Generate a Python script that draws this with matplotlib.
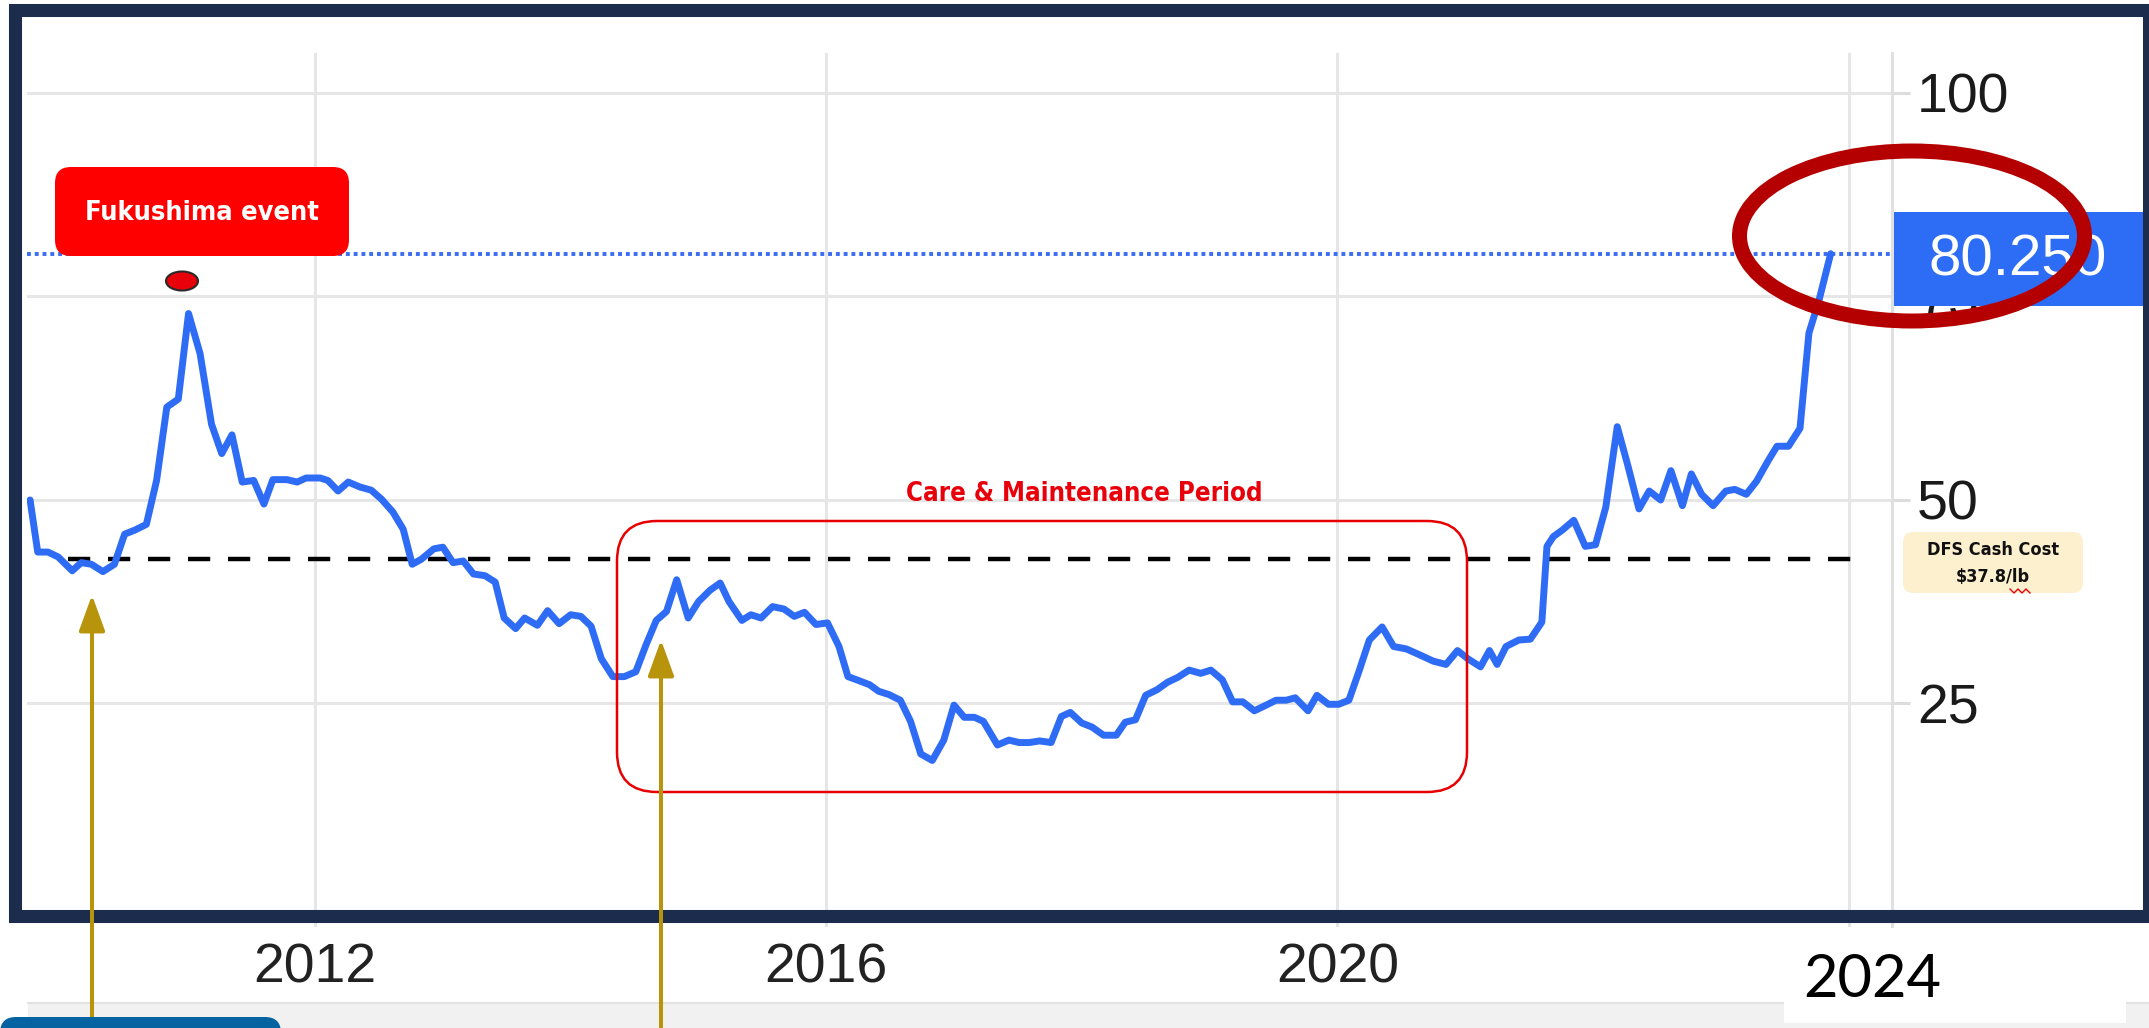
import matplotlib
matplotlib.use("Agg")
import matplotlib.pyplot as plt
import matplotlib.transforms as mtransforms
from matplotlib import font_manager as fm
from matplotlib.patches import FancyBboxPatch, Ellipse, FancyArrowPatch, Rectangle
from matplotlib.lines import Line2D

W, H = 2149, 1028
DPI = 100

# uranium spot price (US$/lb)
dates = [
    2009.77, 2009.83, 2009.91, 2009.99,
    2010.10, 2010.17, 2010.25, 2010.34, 2010.43, 2010.51, 2010.59, 2010.68, 2010.76, 2010.84, 2010.93,
    2011.01, 2011.10, 2011.19, 2011.27, 2011.35, 2011.43, 2011.52, 2011.60, 2011.67, 2011.78, 2011.86, 2011.93,
    2012.04, 2012.10, 2012.18, 2012.26, 2012.35, 2012.44, 2012.52, 2012.61, 2012.69, 2012.76, 2012.83, 2012.93,
    2013.00, 2013.08, 2013.16, 2013.24, 2013.33, 2013.41, 2013.48, 2013.57, 2013.64, 2013.74, 2013.82, 2013.91,
    2014.00, 2014.08, 2014.16, 2014.24, 2014.33, 2014.42, 2014.51, 2014.59, 2014.67, 2014.75, 2014.83, 2014.92,
    2015.00, 2015.09, 2015.17, 2015.24, 2015.34, 2015.41, 2015.49, 2015.58, 2015.67, 2015.75, 2015.83, 2015.92,
    2016.01, 2016.10, 2016.17, 2016.24, 2016.34, 2016.41, 2016.49, 2016.58, 2016.66, 2016.74, 2016.83, 2016.92,
    2017.00, 2017.08, 2017.16, 2017.23, 2017.34, 2017.43, 2017.51, 2017.59, 2017.67, 2017.76, 2017.84, 2017.91,
    2018.00, 2018.08, 2018.17, 2018.27, 2018.34, 2018.42, 2018.50, 2018.59, 2018.67, 2018.75, 2018.84, 2018.93,
    2019.01, 2019.10, 2019.18, 2019.26, 2019.35, 2019.43, 2019.52, 2019.60, 2019.67, 2019.77, 2019.84, 2019.93,
    2020.01, 2020.09, 2020.17, 2020.25, 2020.35, 2020.44, 2020.54, 2020.64, 2020.75, 2020.85, 2020.94,
    2021.02, 2021.12, 2021.19, 2021.25, 2021.32, 2021.42, 2021.51, 2021.60, 2021.64, 2021.69, 2021.76, 2021.85, 2021.94,
    2022.02, 2022.10, 2022.19, 2022.27, 2022.36, 2022.44, 2022.53, 2022.61, 2022.70, 2022.77, 2022.85, 2022.94,
    2023.04, 2023.11, 2023.20, 2023.28, 2023.37, 2023.44, 2023.53, 2023.62, 2023.69, 2023.77, 2023.86,
]
prices = [
    50.0, 43.6, 43.6, 43.0,
    41.3, 42.3, 42.1, 41.2, 42.1, 45.8, 46.3, 47.0, 52.4, 61.4, 62.4,
    72.9, 68.0, 59.3, 55.7, 58.0, 52.2, 52.4, 49.5, 52.5, 52.5, 52.2, 52.7,
    52.7, 52.4, 51.1, 52.2, 51.6, 51.2, 50.1, 48.5, 46.4, 42.1, 42.7, 44.0,
    44.2, 42.3, 42.5, 40.9, 40.7, 39.9, 35.5, 34.2, 35.5, 34.6, 36.4, 34.8,
    35.9, 35.7, 34.5, 30.5, 28.3, 28.3, 28.9, 32.2, 35.2, 36.3, 40.2, 35.5,
    37.5, 38.9, 39.8, 37.5, 35.2, 35.9, 35.5, 36.9, 36.6, 35.7, 36.2, 34.7,
    34.9, 32.0, 28.3, 27.9, 27.3, 26.5, 26.1, 25.4, 22.8, 18.8, 18.0, 20.5,
    24.8, 23.3, 23.3, 22.8, 19.9, 20.5, 20.2, 20.2, 20.4, 20.2, 23.4, 23.9,
    22.6, 22.1, 21.1, 21.1, 22.7, 23.0, 26.0, 26.7, 27.6, 28.2, 29.1, 28.7,
    29.1, 27.9, 25.2, 25.2, 24.1, 24.7, 25.4, 25.4, 25.7, 24.1, 26.0, 24.9,
    24.9, 25.4, 29.0, 32.8, 34.4, 32.0, 31.7, 31.0, 30.2, 29.8, 31.5,
    30.5, 29.5, 31.5, 29.8, 32.0, 32.8, 32.9, 35.0, 44.3, 45.5, 46.3, 47.5, 44.3,
    44.5, 49.1, 59.0, 54.4, 48.9, 51.1, 50.0, 53.6, 49.3, 53.2, 50.7, 49.3,
    51.1, 51.3, 50.7, 52.3, 54.8, 56.6, 56.6, 58.8, 70.5, 74.6, 80.25,
]

last_price = 80.25
dfs_line = 42.8                 # level where the dashed DFS line is drawn
dfs_span = (2010.07, 2024.09)
y_ticks = [25, 50, 75, 100]
x_ticks = [2012, 2016, 2020, 2024]
x_labels = ["2012", "2016", "2020", ""]

plt.rcParams["font.family"] = ["Liberation Sans", "DejaVu Sans"]


def narrow_bold():
    # look for any condensed / narrow bold face that is installed
    picks = []
    for f in fm.fontManager.ttflist:
        narrow = "Narrow" in f.name or "Condensed" in f.name or \
            str(f.stretch) in ("condensed", "semi-condensed", "extra-condensed", "ultra-condensed")
        bold = f.weight in ("bold", 700, "heavy", 800, "semibold", 600) or \
            "Bold" in f.fname
        if narrow and bold:
            picks.append(f)
    if picks:
        picks.sort(key=lambda f: ("Liberation" not in f.name, "Noto" not in f.name, f.fname))
        return fm.FontProperties(fname=picks[0].fname), True
    return fm.FontProperties(family="Roboto", weight="bold"), False


NARROW, IS_NARROW = narrow_bold()
shrink = 1.0 if IS_NARROW else 0.82

fig = plt.figure(figsize=(W / DPI, H / DPI), dpi=DPI)
fig.patch.set_facecolor("white")
PX = mtransforms.IdentityTransform()


def P(x, y):
    # image pixel (origin top-left) -> display pixel
    return (x, H - y)


def label(x, y, s, size, color):
    fp = NARROW.copy()
    fp.set_size(size * shrink)
    fig.text(x, H - y, s, transform=PX, ha="center", va="center",
             fontproperties=fp, color=color, zorder=7)


# chart area (pixels in the image)
ax_l, ax_r, ax_t, ax_b = 27, 1892, 53, 927
ax = fig.add_axes([ax_l / W, 1 - ax_b / H, (ax_r - ax_l) / W, (ax_b - ax_t) / H])
ax.set_xlim(2009.746, 2024.34)
ax.set_ylim(-2.46, 104.91)
ax.set_facecolor("white")

ax.plot(dates, prices, color="#2f6cf6", lw=5.0, solid_joinstyle="round",
        solid_capstyle="round", zorder=4)
ax.axhline(last_price, color="#3a6cf4", lw=2.8, ls=(0, (1, 1)), zorder=3)
ax.hlines(dfs_line, dfs_span[0], dfs_span[1], colors="black", lw=3.2,
          linestyles=(0, (5.0, 4.0)), zorder=3)

ax.set_yticks(y_ticks)
ax.set_xticks(x_ticks)
ax.set_xticklabels(x_labels)
ax.yaxis.tick_right()
ax.grid(True, color="#e6e6e6", lw=2.2, zorder=0)
ax.tick_params(axis="y", length=13, width=2.2, color="#dddddd", pad=5,
               labelsize=40, labelcolor="#1a1a1a")
ax.tick_params(axis="x", length=0, pad=11, labelsize=40, labelcolor="#222222")
for s in ["left", "top", "bottom"]:
    ax.spines[s].set_visible(False)
ax.spines["right"].set_color("#e0e0e0")
ax.spines["right"].set_linewidth(2.2)

# bottom strip, blue tab and the 2024 label
fig.add_artist(Rectangle(P(28, 1028), 2121, 25, transform=PX, facecolor="#f1f1f1",
                         edgecolor="none", zorder=2))
fig.add_artist(Line2D([28, 2149], [H - 1003, H - 1003], transform=PX,
                      color="#e2e2e2", lw=1.5, zorder=2))
fig.add_artist(Rectangle(P(1784, 1023), 342, 95, transform=PX, facecolor="white",
                         edgecolor="none", zorder=3))
fig.text(1872, H - 980, "2024", transform=PX, ha="center", va="center",
         fontsize=43, family=["Lato", "DejaVu Sans"], color="black", zorder=4)

# frame
fig.add_artist(Rectangle(P(14.5, 915.5), 2149 - 14.5, 915.5 - 9.5, transform=PX,
                         facecolor="none", edgecolor="#1b2c4d", lw=9.4, zorder=10))

# gold arrows
for x, tip in [(92, 595), (661, 640)]:
    fig.add_artist(FancyArrowPatch(P(x, 1035), P(x, tip), transform=PX,
                                   arrowstyle="-|>,head_length=22,head_width=8",
                                   mutation_scale=1, shrinkA=0, shrinkB=0,
                                   color="#b8930c", lw=2.9, zorder=11))

fig.add_artist(FancyBboxPatch(P(0, 1060), 281, 43, transform=PX,
                              boxstyle="round,pad=0,rounding_size=16",
                              facecolor="#0563a1", edgecolor="none", zorder=12))

# Fukushima label and marker
fig.add_artist(FancyBboxPatch(P(55, 256), 294, 89, transform=PX,
                              boxstyle="round,pad=0,rounding_size=16",
                              facecolor="#fe0000", edgecolor="none", zorder=6))
label(202, 213, "Fukushima event", 19.5, "white")
fig.add_artist(Ellipse(P(182, 281), 32, 19, transform=PX, facecolor="#e8000b",
                       edgecolor="#2a2a2a", lw=1.5, zorder=6))

# care & maintenance box
fig.add_artist(FancyBboxPatch(P(617, 792), 850, 271, transform=PX,
                              boxstyle="round,pad=0,rounding_size=40",
                              facecolor="none", edgecolor="#e60000", lw=1.8, zorder=6))
label(1084, 494, "Care & Maintenance Period", 18.5, "#e8000b")

# DFS cash cost tag
fig.add_artist(FancyBboxPatch(P(1903, 593), 180, 61, transform=PX,
                              boxstyle="round,pad=0,rounding_size=10",
                              facecolor="#fdf0cf", edgecolor="none", zorder=6))
label(1993, 550, "DFS Cash Cost", 13, "#111111")
label(1993, 577, "$37.8/lb", 13, "#111111")
fig.add_artist(Line2D([2010, 2014, 2018, 2022, 2026, 2030],
                      [H - 589, H - 593, H - 589, H - 593, H - 589, H - 593],
                      transform=PX, color="#e8000b", lw=1.0, zorder=7))

# last price tag and highlight ellipse
fig.add_artist(Rectangle(P(1894, 306), 249, 94, transform=PX, facecolor="#2d6cf5",
                         edgecolor="none", zorder=6))
fig.text(2018, H - 261, "80.250", transform=PX, ha="center", va="center",
         fontsize=42, color="white", zorder=7)
fig.add_artist(Ellipse(P(1912, 236), 345, 170, transform=PX, facecolor="none",
                       edgecolor="#b40000", lw=10.8, zorder=8))

fig.savefig("out.png", dpi=DPI)
